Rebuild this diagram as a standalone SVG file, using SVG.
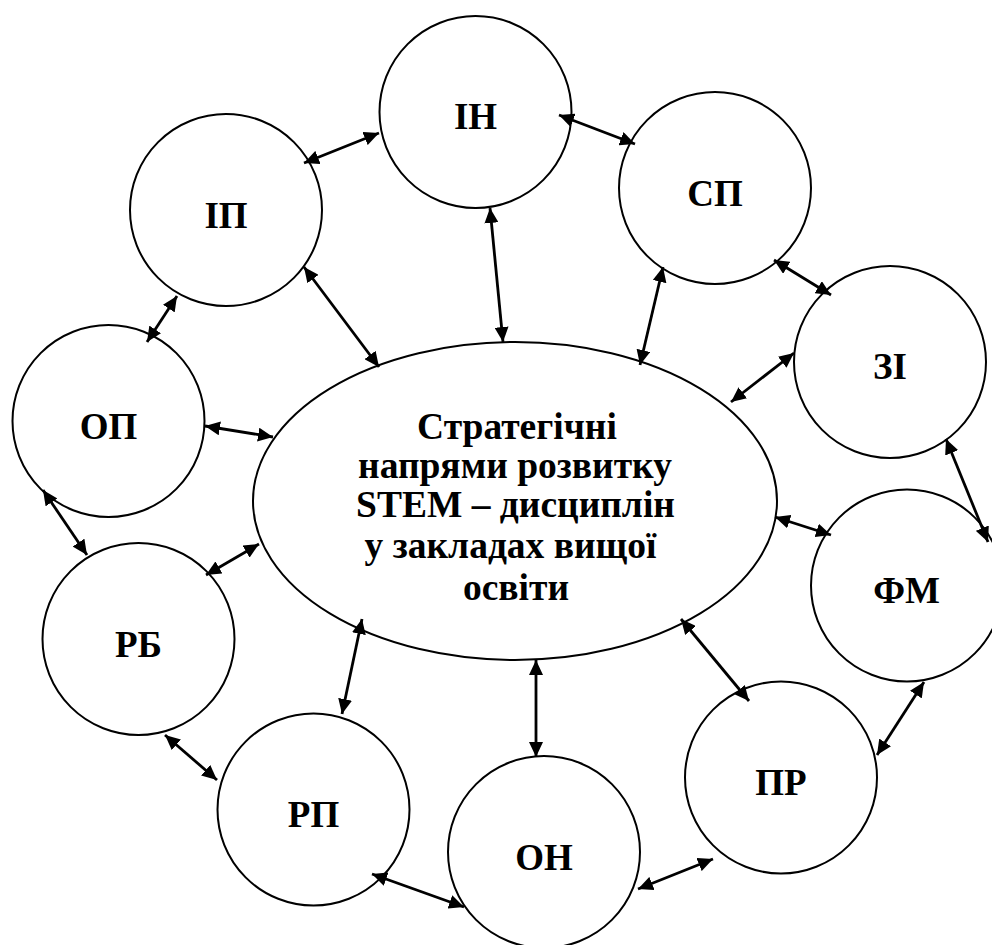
<svg xmlns="http://www.w3.org/2000/svg" width="992" height="945" viewBox="0 0 992 945">
<defs>
<style>
.node{fill:#fff;stroke:#000;stroke-width:2}
.con line{stroke:#000;stroke-width:2.8;marker-start:url(#ah);marker-end:url(#ah)}
</style>
<marker id="ah" markerUnits="userSpaceOnUse" markerWidth="16" markerHeight="14" refX="15" refY="7" orient="auto-start-reverse">
<path d="M0,0 L15,7 L0,14 z" fill="#000"/>
</marker>
</defs>
<rect width="992" height="945" fill="#fff"/>
<g id="center">
<ellipse class="node" cx="515" cy="501" rx="262" ry="159"/>
<text style="font-family:'Liberation Serif','Times New Roman',serif;font-weight:700;font-size:37.5px;text-anchor:middle" fill="#000"><tspan x="517" y="439">Стратегічні</tspan><tspan x="515" y="478">напрями розвитку</tspan><tspan x="515.5" y="517">STEM – дисциплін</tspan><tspan x="510.5" y="558">у закладах вищої</tspan><tspan x="516" y="600">освіти</tspan></text>
</g>
<g id="IN"><circle class="node" cx="475.5" cy="112" r="96"/><text style="font-family:'Liberation Serif','Times New Roman',serif;font-weight:700;font-size:37px;text-anchor:middle" x="475.5" y="129">ІН</text></g>
<g id="SP"><circle class="node" cx="715" cy="188" r="96"/><text style="font-family:'Liberation Serif','Times New Roman',serif;font-weight:700;font-size:37px;text-anchor:middle" x="715" y="206">СП</text></g>
<g id="IP"><circle class="node" cx="226" cy="210" r="96"/><text style="font-family:'Liberation Serif','Times New Roman',serif;font-weight:700;font-size:37px;text-anchor:middle" x="226" y="228">ІП</text></g>
<g id="ZI"><circle class="node" cx="890" cy="362" r="96"/><text style="font-family:'Liberation Serif','Times New Roman',serif;font-weight:700;font-size:37px;text-anchor:middle" x="890" y="379">ЗІ</text></g>
<g id="OP"><circle class="node" cx="108.5" cy="421" r="96"/><text style="font-family:'Liberation Serif','Times New Roman',serif;font-weight:700;font-size:37px;text-anchor:middle" x="108.5" y="439">ОП</text></g>
<g id="FM"><circle class="node" cx="907" cy="585.5" r="96"/><text style="font-family:'Liberation Serif','Times New Roman',serif;font-weight:700;font-size:37px;text-anchor:middle" x="906.5" y="603">ФМ</text></g>
<g id="RB"><circle class="node" cx="138.5" cy="639" r="96"/><text style="font-family:'Liberation Serif','Times New Roman',serif;font-weight:700;font-size:37px;text-anchor:middle" x="138.5" y="657">РБ</text></g>
<g id="PR"><circle class="node" cx="781" cy="777.5" r="96"/><text style="font-family:'Liberation Serif','Times New Roman',serif;font-weight:700;font-size:37px;text-anchor:middle" x="781" y="795">ПР</text></g>
<g id="RP"><circle class="node" cx="313.5" cy="809.5" r="96"/><text style="font-family:'Liberation Serif','Times New Roman',serif;font-weight:700;font-size:37px;text-anchor:middle" x="313.5" y="827">РП</text></g>
<g id="ON"><circle class="node" cx="544" cy="852" r="96"/><text style="font-family:'Liberation Serif','Times New Roman',serif;font-weight:700;font-size:37px;text-anchor:middle" x="544" y="870">ОН</text></g>
<g id="connectors" class="con">
<line x1="304" y1="163" x2="379" y2="133"/>
<line x1="559" y1="115" x2="635" y2="144"/>
<line x1="490" y1="208" x2="503" y2="342"/>
<line x1="304" y1="267" x2="379" y2="367"/>
<line x1="177" y1="296" x2="147" y2="342"/>
<line x1="205" y1="426" x2="273" y2="437"/>
<line x1="663" y1="267" x2="640" y2="365"/>
<line x1="774" y1="260" x2="831" y2="295"/>
<line x1="794" y1="353" x2="731" y2="402"/>
<line x1="946" y1="439" x2="988" y2="542"/>
<line x1="775" y1="517" x2="831" y2="535"/>
<line x1="43" y1="490" x2="87" y2="555"/>
<line x1="206" y1="575" x2="259" y2="544"/>
<line x1="362" y1="619" x2="342" y2="714"/>
<line x1="165" y1="735" x2="217" y2="780"/>
<line x1="372" y1="874" x2="464" y2="907"/>
<line x1="536" y1="660" x2="536" y2="757"/>
<line x1="681" y1="619" x2="749" y2="701"/>
<line x1="638" y1="889" x2="713" y2="859"/>
<line x1="877" y1="755" x2="924" y2="682"/>
</g>
</svg>
